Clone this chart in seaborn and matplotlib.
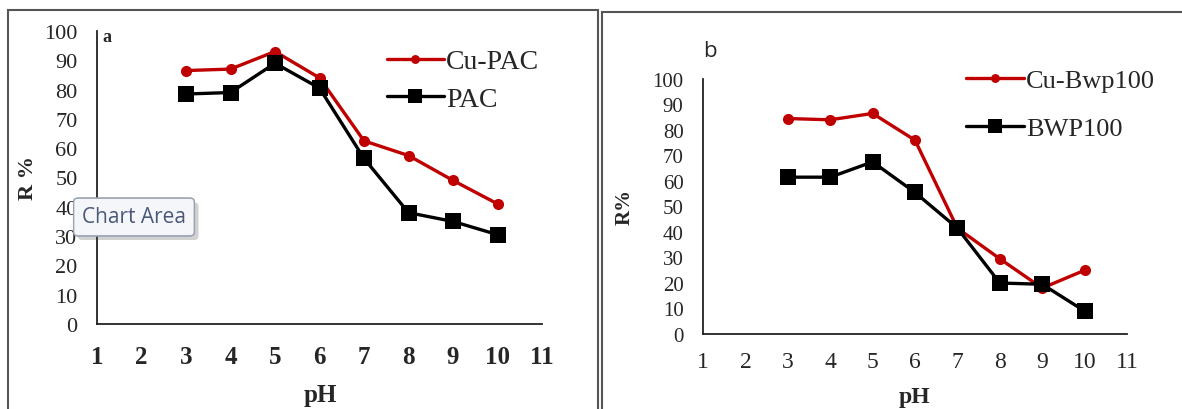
import pandas as pd
import matplotlib.pyplot as plt
import seaborn as sns
from matplotlib.patches import Rectangle
from matplotlib import patheffects

# values
ph = [3, 4, 5, 6, 7, 8, 9, 10]
cu_pac = [86.5, 87, 93, 84, 62.5, 57.5, 49, 41]
pac = [78.5, 79, 89, 80.5, 56.5, 38, 35, 30.5]
cu_bwp100 = [84.5, 84, 86.5, 76, 41.5, 29.5, 18, 25]
bwp100 = [61.5, 61.5, 67.5, 55.5, 41.5, 20, 19.5, 9]
x_ticks = list(range(1, 12))
y_ticks = list(range(0, 101, 10))

sns.set_style("white")
plt.rcParams['font.family'] = ['Liberation Serif', 'DejaVu Serif']

RED = '#C00000'
BLACK = '#000000'

fig = plt.figure(figsize=(11.82, 4.10), dpi=100)
W, H = 1182, 410

def axes_at(x0, x1, ytop, ybot):
    return fig.add_axes([x0 / W, 1 - ybot / H, (x1 - x0) / W, (ybot - ytop) / H])

ax1 = axes_at(97, 542, 32, 325)
ax2 = axes_at(703, 1127, 80, 335)

df_a = pd.DataFrame({'pH': ph, 'Cu-PAC': cu_pac, 'PAC': pac})
df_b = pd.DataFrame({'pH': ph, 'Cu-Bwp100': cu_bwp100, 'BWP100': bwp100})

sns.lineplot(data=df_a, x='pH', y='Cu-PAC', ax=ax1, color=RED, marker='o',
             markersize=8, markeredgewidth=0, linewidth=2.4, label='Cu-PAC')
sns.lineplot(data=df_a, x='pH', y='PAC', ax=ax1, color=BLACK, marker='s',
             markersize=12, markeredgewidth=0, linewidth=2.4, label='PAC')
sns.lineplot(data=df_b, x='pH', y='Cu-Bwp100', ax=ax2, color=RED, marker='o',
             markersize=8, markeredgewidth=0, linewidth=2.4, label='Cu-Bwp100')
sns.lineplot(data=df_b, x='pH', y='BWP100', ax=ax2, color=BLACK, marker='s',
             markersize=12, markeredgewidth=0, linewidth=2.4, label='BWP100')

for ax in (ax1, ax2):
    ax.set_xlim(1, 11)
    ax.set_ylim(0, 100)
    ax.set_xticks(x_ticks)
    ax.set_yticks(y_ticks)
    for s in ['top', 'right']:
        ax.spines[s].set_visible(False)
    for s in ['left', 'bottom']:
        ax.spines[s].set_color('#222222')
        ax.spines[s].set_linewidth(1.3)
    ax.patch.set_alpha(0)

# panel a
ax1.tick_params(axis='y', length=0, pad=14, labelsize=16)
ax1.tick_params(axis='x', length=0, pad=15, labelsize=18)
for t in ax1.get_xticklabels():
    t.set_fontweight('bold')
ax1.set_xlabel('pH', fontsize=18, fontweight='bold')
ax1.set_ylabel('R %', fontsize=16, fontweight='bold')
ax1.xaxis.label.set_va('center')
ax1.yaxis.label.set_va('center')
ax1.xaxis.set_label_coords(0.501, -0.239)
ax1.yaxis.set_label_coords(-0.155, 0.50)
ax1.text(0.012, 0.98, 'a', transform=ax1.transAxes, fontsize=13,
         fontweight='bold', ha='left', va='center')
ax1.legend(loc='upper left', bbox_to_anchor=(387 / W, 1 - 50 / H),
           bbox_transform=fig.transFigure, frameon=False, fontsize=20,
           handlelength=2.05, handletextpad=0.08, labelspacing=0.42,
           borderpad=0, borderaxespad=0, markerscale=0.8)

# panel b
ax2.tick_params(axis='y', length=0, pad=14, labelsize=15)
ax2.tick_params(axis='x', length=0, pad=12, labelsize=17)
ax2.set_xlabel('pH', fontsize=17, fontweight='bold')
ax2.set_ylabel('R%', fontsize=15, fontweight='bold')
ax2.xaxis.label.set_va('center')
ax2.yaxis.label.set_va('center')
ax2.xaxis.set_label_coords(0.498, -0.247)
ax2.yaxis.set_label_coords(-0.186, 0.50)
ax2.text(0.0, 1.11, 'b', transform=ax2.transAxes, fontsize=16,
         family='Open Sans', ha='left', va='center')
ax2.legend(loc='upper left', bbox_to_anchor=(966 / W, 1 - 70 / H),
           bbox_transform=fig.transFigure, frameon=False, fontsize=19,
           handlelength=2.2, handletextpad=0.08, labelspacing=0.92,
           borderpad=0, borderaxespad=0, markerscale=0.8)

# chart frames
fig.add_artist(Rectangle((8 / W, -0.05), (598 - 8) / W, 1.05 - 11 / H,
                         transform=fig.transFigure, fill=False,
                         edgecolor='#555555', linewidth=1.5))
fig.add_artist(Rectangle((602 / W, -0.05), (1200 - 602) / W, 1.05 - 13 / H,
                         transform=fig.transFigure, fill=False,
                         edgecolor='#555555', linewidth=1.5))

# Excel tooltip left over in the screenshot
tip = fig.text(134 / W, 1 - 218 / H, 'Chart Area', family='Open Sans', fontsize=15,
               color='#4a5878', ha='center', va='center', zorder=20,
               bbox=dict(boxstyle='round,pad=0.4,rounding_size=0.2',
                         facecolor='#f4f6fa', edgecolor='#9aa3b3', linewidth=1.0))
tip.get_bbox_patch().set_path_effects(
    [patheffects.withSimplePatchShadow(offset=(3, -3), alpha=0.25), patheffects.Normal()])

fig.savefig('out.png', dpi=100)
